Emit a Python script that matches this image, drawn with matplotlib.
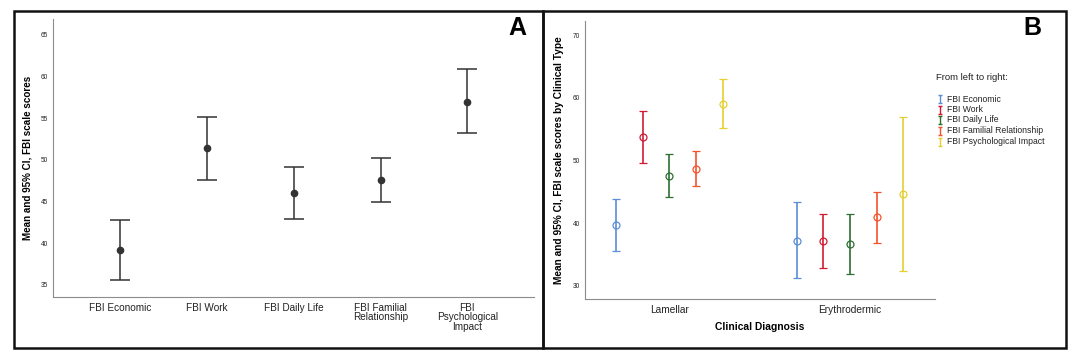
import matplotlib
matplotlib.use("Agg")
import matplotlib.pyplot as plt
from matplotlib.lines import Line2D
from matplotlib.patches import Rectangle
from matplotlib.path import Path
import numpy as np

plt.rcParams['font.family'] = ['Liberation Sans', 'DejaVu Sans']

# ---------------- data ----------------
a_categories = ["FBI Economic", "FBI Work", "FBI Daily Life",
                "FBI Familial\nRelationship", "FBI\nPsychological\nImpact"]
a_mean = [39.2, 51.4, 46.0, 47.6, 57.0]
a_low = [35.6, 47.6, 42.9, 45.0, 53.2]
a_high = [42.8, 55.2, 49.2, 50.2, 60.9]
a_yticks = [35, 40, 45, 50, 55, 60, 65]

b_groups = ["Lamellar", "Erythrodermic"]
b_series = ["FBI Economic", "FBI Work", "FBI Daily Life",
            "FBI Familial Relationship", "FBI Psychological Impact"]
b_colors = ["#5b8ed6", "#d21b33", "#2d6e31", "#f4522c", "#e5cf32"]
# per series: [Lamellar, Erythrodermic]
b_mean = [[39.7, 37.2], [53.8, 37.2], [47.6, 36.7], [48.7, 40.9], [59.1, 44.6]]
b_low = [[35.5, 31.2], [49.6, 32.9], [44.2, 31.9], [45.9, 36.8], [55.2, 32.3]]
b_high = [[43.8, 43.3], [57.9, 41.5], [51.0, 41.5], [51.5, 45.0], [63.0, 56.9]]
b_yticks = [30, 40, 50, 60, 70]

W, H = 1074, 356
fig = plt.figure(figsize=(W / 100, H / 100), dpi=100)


def fx(px):
    return px / W


def fy(py):
    return 1 - py / H


spine_col = "#8c8c8c"

# ---------------- Panel A ----------------
axA = fig.add_axes([fx(53.3), fy(297), fx(534) - fx(53.3), fy(19) - fy(297)])
xa = np.arange(len(a_categories))
ma = np.array(a_mean)
axA.errorbar(xa, ma, yerr=[ma - np.array(a_low), np.array(a_high) - ma],
             fmt='o', color="#333333", ecolor="#333333", elinewidth=1.1,
             capsize=7.5, capthick=1.1, markersize=4.5, zorder=3)
axA.set_xlim(-0.775, 4.77)
axA.set_ylim(33.56, 66.9)
axA.set_xticks(xa)
axA.set_xticklabels(a_categories, fontsize=7.2, linespacing=0.95, color="#222222")
axA.set_yticks(a_yticks)
axA.set_yticklabels([str(v) for v in a_yticks], fontsize=4.7, color="#222222")
axA.tick_params(length=0, axis='y', pad=3.8)
axA.tick_params(length=0, axis='x', pad=4.0)
for s in ["top", "right"]:
    axA.spines[s].set_visible(False)
for s in ["left", "bottom"]:
    axA.spines[s].set_color(spine_col)
    axA.spines[s].set_linewidth(0.8)
axA.set_ylabel("Mean and 95% CI, FBI scale scores", fontsize=7.1,
               fontweight='bold')
axA.yaxis.set_label_coords((32.5 - 53.3) / (534 - 53.3), 0.5)
fig.text(fx(517), fy(28), "A", fontsize=18, fontweight='bold',
         ha='center', va='center')

# ---------------- Panel B ----------------
axB = fig.add_axes([fx(585), fy(298.7), fx(934.7) - fx(585), fy(20.7) - fy(298.7)])
xb = np.arange(len(b_groups))
offsets = np.array([-2, -1, 0, 1, 2]) * 0.148
for i, name in enumerate(b_series):
    m = np.array(b_mean[i])
    lo = np.array(b_low[i])
    hi = np.array(b_high[i])
    axB.errorbar(xb + offsets[i], m, yerr=[m - lo, hi - m], fmt='o',
                 color=b_colors[i], ecolor=b_colors[i], elinewidth=1.2,
                 capsize=3.0, capthick=1.2, markersize=5.0,
                 markerfacecolor='none', markeredgewidth=0.9, zorder=3)
axB.set_xlim(-0.467, 1.469)
axB.set_ylim(27.92, 72.33)
axB.set_xticks(xb)
axB.set_xticklabels(b_groups, fontsize=7.3, color="#222222")
axB.set_yticks(b_yticks)
axB.set_yticklabels([str(v) for v in b_yticks], fontsize=4.7, color="#222222")
axB.tick_params(length=0, axis='y', pad=3.8)
axB.tick_params(length=0, axis='x', pad=4.5)
for s in ["top", "right"]:
    axB.spines[s].set_visible(False)
for s in ["left", "bottom"]:
    axB.spines[s].set_color(spine_col)
    axB.spines[s].set_linewidth(0.8)
axB.set_ylabel("Mean and 95% CI, FBI scale scores by Clinical Type",
               fontsize=7.3, fontweight='bold')
axB.yaxis.set_label_coords((564.5 - 585) / (934.7 - 585), 0.5)
fig.text(fx((585 + 934.7) / 2 + 0), fy(327), "Clinical Diagnosis", fontsize=7.4,
         fontweight='bold', ha='center', va='center')
fig.text(fx(1032.7), fy(28), "B", fontsize=18, fontweight='bold',
         ha='center', va='center')

# legend (manual)
ibar = Path([(-0.5, -1), (0.5, -1), (0, -1), (0, 1), (-0.5, 1), (0.5, 1)],
            [Path.MOVETO, Path.LINETO, Path.MOVETO, Path.LINETO,
             Path.MOVETO, Path.LINETO])
fig.text(fx(936), fy(77), "From left to right:", fontsize=6.8,
         ha='left', va='center', color="#222222")
rows_y = [99, 109.5, 120, 130.7, 141.5]
for i, name in enumerate(b_series):
    fig.add_artist(Line2D([fx(939.5)], [fy(rows_y[i])], transform=fig.transFigure,
                          marker=ibar, markersize=5.5, color=b_colors[i],
                          markeredgewidth=1.0, linestyle='none'))
    fig.text(fx(946.7), fy(rows_y[i]), name, fontsize=6.2, ha='left',
             va='center', color="#222222")

# panel borders
for (x0, x1) in [(14, 543), (543, 1066)]:
    fig.add_artist(Rectangle((fx(x0), fy(348)), fx(x1) - fx(x0), fy(11) - fy(348),
                             transform=fig.transFigure, fill=False,
                             edgecolor="#111111", linewidth=1.8))

fig.savefig("out.png", dpi=100)
